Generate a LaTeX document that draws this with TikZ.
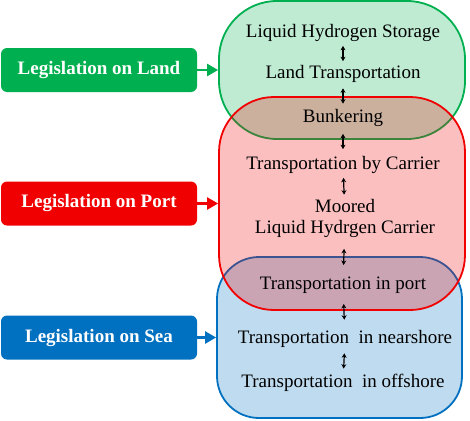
\documentclass[tikz,border=0pt]{standalone}
\usepackage{fontspec}
\setmainfont{Liberation Serif}
\usetikzlibrary{positioning,calc,arrows.meta}

\definecolor{landgreen}{RGB}{0,176,80}
\definecolor{portred}{RGB}{240,0,0}
\definecolor{seablue}{RGB}{0,112,192}

\begin{document}
\begin{tikzpicture}[>=latex, x=1pt, y=-1pt,
    zone/.style={draw=#1, fill=#1, fill opacity=0.25, line width=1.8pt, minimum width=246pt},
    legis/.style={fill=#1, rounded corners=6pt, minimum width=196pt, minimum height=44pt,
        text=white, font=\fontsize{19}{22}\selectfont\bfseries},
    stage/.style={inner sep=0pt, align=center, font=\fontsize{19}{21}\selectfont},
    updown/.style={{Stealth[length=4.5pt,width=5pt]}-{Stealth[length=4.5pt,width=5pt]},
        line width=1.2pt, shorten <=#1, shorten >=#1},
    feed/.style={-{Triangle[length=11pt,width=12pt]}, line width=2.4pt, draw=#1}]
    \useasboundingbox (0,0) rectangle (470,420);

    % the three zones, red on top
    \node[zone=landgreen, minimum height=138pt, rounded corners=58pt] (landzone) at (342,70) {};
    \node[zone=seablue, minimum width=245pt, minimum height=161pt, rounded corners=42pt] (seazone) at (339.5,337.5) {};
    \node[zone=portred, minimum height=213pt, rounded corners=55pt] (portzone) at (342,203.5) {};

    % chain of stages
    \node[stage] (storage) at (343,33) {Liquid Hydrogen Storage};
    \node[stage] (landtr) at (343,74) {Land Transportation};
    \node[stage] (bunker) at (343,118) {Bunkering};
    \node[stage] (carrier) at (343,165) {Transportation by Carrier};
    \node[stage] (moored) at (345,218) {Moored\\ Liquid Hydrgen Carrier};
    \node[stage] (inport) at (343,285) {Transportation in port};
    \node[stage] (nearshore) at (345,339) {Transportation\ \ in nearshore};
    \node[stage] (offshore) at (343,383) {Transportation\ \ in offshore};

    \draw[updown=4pt] (storage) -- (landtr);
    \draw[updown=5.5pt] (landtr) -- (bunker);
    \draw[updown=7pt] (bunker) -- (carrier);
    \draw[updown=4pt] (carrier) -- (moored);
    \draw[updown=11.5pt] (moored) -- (inport);
    \draw[updown=10.5pt] (inport) -- (nearshore);
    \draw[updown=5.5pt] (nearshore) -- (offshore);

    % legislation boxes
    \node[legis=landgreen] (landleg) at (99,70) {Legislation on Land};
    \node[legis=portred] (portleg) at (99,203.5) {Legislation on Port};
    \node[legis=seablue] (sealeg) at (99,337.5) {Legislation on Sea};

    \draw[feed=landgreen] (landleg) -- (landzone);
    \draw[feed=portred] (portleg) -- (portzone);
    \draw[feed=seablue] (sealeg) -- (seazone);
\end{tikzpicture}
\end{document}
